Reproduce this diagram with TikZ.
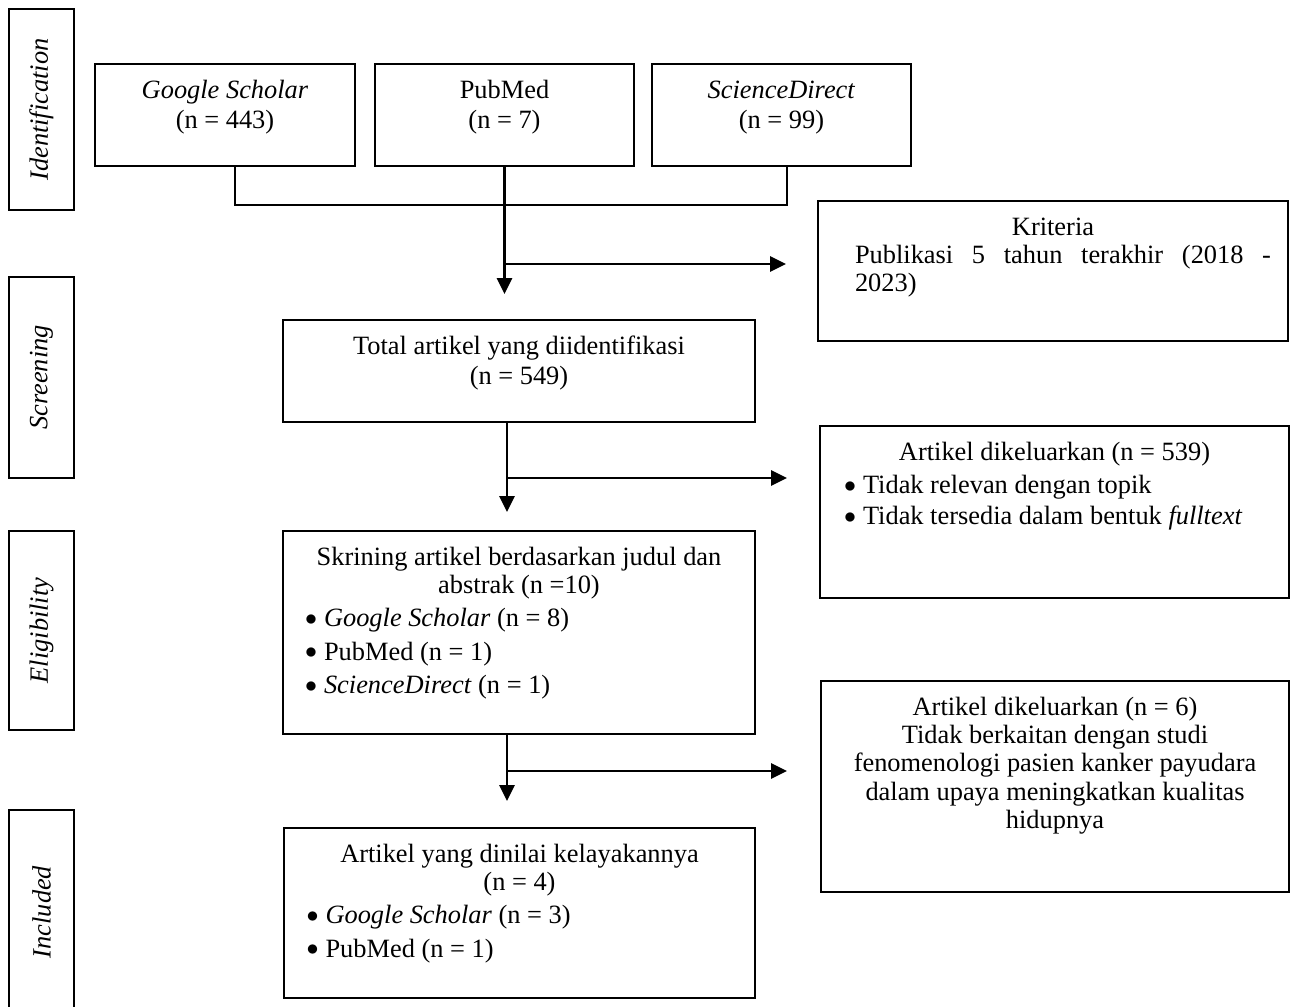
\documentclass[tikz,border=0pt]{standalone}
\usepackage{fontspec}
\setmainfont{Liberation Serif}
\usepackage{tikz}
\usetikzlibrary{arrows.meta,fit,calc}
\setlength{\parindent}{0pt}
\tikzstyle{box}=[draw, line width=1pt, inner sep=0pt]
\tikzstyle{txt}=[inner sep=0pt, anchor=base, align=flush center, font=\fontsize{13.2}{14.2}\selectfont]
\tikzstyle{stage}=[inner sep=0pt, rotate=90, font=\fontsize{13.2}{14.2}\selectfont\itshape]
\tikzstyle{link}=[line width=1pt]
\tikzstyle{flow}=[line width=1.4pt, -{Triangle[length=8pt,width=7.5pt]}]
\newcommand{\flowbox}[3]{
	\node[box, fit={#2 #3}] (#1) {};
}
\newcommand{\itm}{\makebox[9.5pt][l]{\raisebox{0.7pt}{$\bullet$}}}

\begin{document}
\begin{tikzpicture}[x=0.5pt, y=-0.5pt]
	\useasboundingbox (0,0) rectangle (1291,1007);
	\flowbox{idf}{(9,9)}{(74,210)}
	\flowbox{scr}{(9,277)}{(74,478)}
	\flowbox{elg}{(9,531)}{(74,730)}
	\flowbox{inc}{(9,810)}{(74,1014)}
	\node[stage] (idfL) at (idf.center) {Identification};
	\node[stage] (scrL) at (scr.center) {Screening};
	\node[stage] (elgL) at (elg.center) {Eligibility};
	\node[stage] (incL) at (inc.center) {Included};
	\flowbox{gs}{(95,64)}{(355,166)}
	\flowbox{pm}{(375,64)}{(634,166)}
	\flowbox{sd}{(652,64)}{(911,166)}
	\flowbox{krit}{(818,201)}{(1288,341)}
	\flowbox{tot}{(283,320)}{(755,422)}
	\flowbox{exa}{(820,426)}{(1289,598)}
	\flowbox{skr}{(283,531)}{(755,734)}
	\flowbox{exb}{(821,681)}{(1289,892)}
	\flowbox{fin}{(284,828)}{(755,998)}
	\node[txt, text width=120pt] (gsT) at ([yshift=-17.5pt]gs.north) {\textit{Google Scholar}\\[1pt](n = 443)};
	\node[txt, text width=120pt] (pmT) at ([yshift=-17.5pt]pm.north) {PubMed\\[1pt](n = 7)};
	\node[txt, text width=120pt] (sdT) at ([yshift=-17.5pt]sd.north) {\textit{ScienceDirect}\\[1pt](n = 99)};
	\node[txt, text width=208pt, align=flush left] (kritT) at ([xshift=5pt,yshift=-17.5pt]krit.north) {{\centering\hspace*{-10pt}Kriteria\par}\makebox[208pt][s]{Publikasi 5 tahun terakhir (2018 -}\\2023)};
	\node[txt, text width=230pt] (totT) at ([yshift=-17.5pt]tot.north) {Total artikel yang diidentifikasi\\[1pt](n = 549)};
	\node[txt, text width=210.5pt, align=flush left] (exaT) at ([yshift=-17.5pt]exa.north) {{\centering Artikel dikeluarkan (n = 539)\par}\vspace{2.5pt}\itm Tidak relevan dengan topik\\[1.5pt]\itm Tidak tersedia dalam bentuk \textit{fulltext}};
	\node[txt, text width=214pt, align=flush left] (skrT) at ([yshift=-17.5pt]skr.north) {{\centering Skrining artikel berdasarkan judul dan\\abstrak (n =10)\par}\vspace{2.5pt}\itm\textit{Google Scholar} (n = 8)\\[2.5pt]\itm PubMed (n = 1)\\[2.5pt]\itm\textit{ScienceDirect} (n = 1)};
	\node[txt, text width=226pt] (exbT) at ([yshift=-17.5pt]exb.north) {Artikel dikeluarkan (n = 6)\\Tidak berkaitan dengan studi\\fenomenologi pasien kanker payudara\\dalam upaya meningkatkan kualitas\\hidupnya};
	\node[txt, text width=213pt, align=flush left] (finT) at ([yshift=-17.5pt]fin.north) {{\centering Artikel yang dinilai kelayakannya\\(n = 4)\par}\vspace{2.5pt}\itm\textit{Google Scholar} (n = 3)\\[2.5pt]\itm PubMed (n = 1)};
	\coordinate (brk) at (505,205);
	\draw[link] ([xshift=5pt]gs.south) |- (brk) -| ([xshift=2.5pt]sd.south);
	\draw[flow, shorten >=12.5pt] (pm.south) -- (pm.south |- tot.north);
	\coordinate (ja) at (505,264);
	\draw[flow, shorten >=15.5pt] (ja) -- (ja -| krit.west);
	\coordinate (jb) at (507,478);
	\draw[flow, shorten >=9pt] (jb |- tot.south) -- (jb |- skr.north);
	\draw[flow, shorten >=16pt] (jb) -- (jb -| exa.west);
	\coordinate (jc) at (507,771);
	\draw[flow, shorten >=13pt] (jc |- skr.south) -- (jc |- fin.north);
	\draw[flow, shorten >=16.5pt] (jc) -- (jc -| exb.west);
\end{tikzpicture}
\end{document}
